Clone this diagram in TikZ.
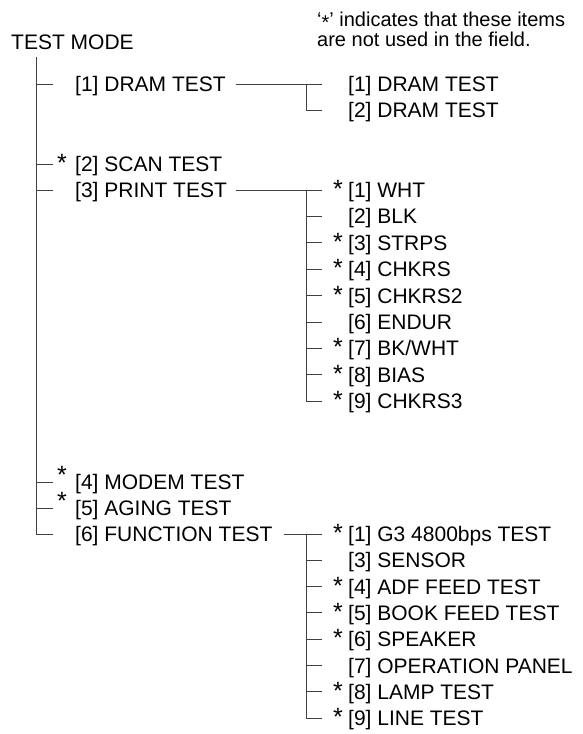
\documentclass[tikz,border=0pt]{standalone}
\usepackage{fontspec}
\setmainfont{Liberation Sans}
\usepackage{tikz}
\usetikzlibrary{calc}

\begin{document}
\begin{tikzpicture}[x=1pt,y=-1pt,
		item/.style={font=\fontsize{21}{21}\selectfont, inner sep=0pt, text height=15pt, text depth=0pt, anchor=west},
		star/.style={item, font=\fontsize{25}{25}\selectfont, anchor=east},
		note/.style={font=\fontsize{20}{20}\selectfont, inner sep=0pt, anchor=base west},
		link/.style={line width=0.9pt, black!75}]
		\useasboundingbox (0,0) rectangle (582,734);

		\node[note] (note1) at (317,26.2) {‘\raisebox{-3pt}[\height][0pt]{*}’ indicates that these items};
		\node[note] (note2) at (317,46.7) {are not used in the field.};
		\node[item, anchor=base west] (mode) at (11,49) {TEST MODE};
		\coordinate (trunk) at (36,57);

		% first level
		\node[item] (dram) at (75,84) {[1] DRAM TEST};
		\node[item] (scan) at (75,164) {[2] SCAN TEST};
		\node[item] (print) at (75,190) {[3] PRINT TEST};
		\node[item] (modem) at (75,482) {[4] MODEM TEST};
		\node[item] (aging) at (75,508) {[5] AGING TEST};
		\node[item] (func) at (75,534) {[6] FUNCTION TEST};
		\node[star] (scanstar) at (67,164) {*};
		\node[star] (modemstar) at (67,476) {*};
		\node[star] (agingstar) at (67,502) {*};

		\draw[link] (trunk) |- ($(func.west)+(-22,0)$);
		\draw[link] (trunk |- dram.west) -- ++(17,0);
		\draw[link] (trunk |- scan.west) -- ++(17,0);
		\draw[link] (trunk |- print.west) -- ++(17,0);
		\draw[link] (trunk |- modem.west) -- ++(17,0);
		\draw[link] (trunk |- aging.west) -- ++(17,0);

		% dram test
		\node[item] (d1) at (348,84) {[1] DRAM TEST};
		\node[item] (d2) at (348,110) {[2] DRAM TEST};
		\draw[link] ($(dram.east)+(10,0)$) -- ($(d1.west)+(-26,0)$);
		\draw[link] ($(d1.west)+(-42,0)$) |- ($(d2.west)+(-26,0)$);

		% print test
		\node[item] (p1) at (348,190) {[1] WHT};
		\node[item] (p2) at (348,216.4) {[2] BLK};
		\node[item] (p3) at (348,242.8) {[3] STRPS};
		\node[item] (p4) at (348,269.2) {[4] CHKRS};
		\node[item] (p5) at (348,295.6) {[5] CHKRS2};
		\node[item] (p6) at (348,322) {[6] ENDUR};
		\node[item] (p7) at (348,348.4) {[7] BK/WHT};
		\node[item] (p8) at (348,374.8) {[8] BIAS};
		\node[item] (p9) at (348,401.2) {[9] CHKRS3};
		\node[star] (p1star) at (343,190) {*};
		\node[star] (p3star) at (343,242.8) {*};
		\node[star] (p4star) at (343,269.2) {*};
		\node[star] (p5star) at (343,295.6) {*};
		\node[star] (p7star) at (343,348.4) {*};
		\node[star] (p8star) at (343,374.8) {*};
		\node[star] (p9star) at (343,401.2) {*};

		\draw[link] ($(print.east)+(9,0)$) -- ($(p1.west)+(-26,0)$);
		\draw[link] ($(p1.west)+(-42,0)$) |- ($(p9.west)+(-26,0)$);
		\draw[link] ($(p2.west)+(-42,0)$) -- ++(16,0);
		\draw[link] ($(p3.west)+(-42,0)$) -- ++(16,0);
		\draw[link] ($(p4.west)+(-42,0)$) -- ++(16,0);
		\draw[link] ($(p5.west)+(-42,0)$) -- ++(16,0);
		\draw[link] ($(p6.west)+(-42,0)$) -- ++(16,0);
		\draw[link] ($(p7.west)+(-42,0)$) -- ++(16,0);
		\draw[link] ($(p8.west)+(-42,0)$) -- ++(16,0);

		% function test
		\node[item] (f1) at (348,534) {[1] G3 4800bps TEST};
		\node[item] (f2) at (348,560.3) {[3] SENSOR};
		\node[item] (f3) at (348,586.6) {[4] ADF FEED TEST};
		\node[item] (f4) at (348,612.9) {[5] BOOK FEED TEST};
		\node[item] (f5) at (348,639.2) {[6] SPEAKER};
		\node[item] (f6) at (348,665.5) {[7] OPERATION PANEL};
		\node[item] (f7) at (348,691.8) {[8] LAMP TEST};
		\node[item] (f8) at (348,718.1) {[9] LINE TEST};
		\node[star] (f1star) at (343,534) {*};
		\node[star] (f3star) at (343,586.6) {*};
		\node[star] (f4star) at (343,612.9) {*};
		\node[star] (f5star) at (343,639.2) {*};
		\node[star] (f7star) at (343,691.8) {*};
		\node[star] (f8star) at (343,718.1) {*};

		\draw[link] ($(func.east)+(11,0)$) -- ($(f1.west)+(-26,0)$);
		\draw[link] ($(f1.west)+(-42,0)$) |- ($(f8.west)+(-26,0)$);
		\draw[link] ($(f2.west)+(-42,0)$) -- ++(16,0);
		\draw[link] ($(f3.west)+(-42,0)$) -- ++(16,0);
		\draw[link] ($(f4.west)+(-42,0)$) -- ++(16,0);
		\draw[link] ($(f5.west)+(-42,0)$) -- ++(16,0);
		\draw[link] ($(f6.west)+(-42,0)$) -- ++(16,0);
		\draw[link] ($(f7.west)+(-42,0)$) -- ++(16,0);
	\end{tikzpicture}
\end{document}
